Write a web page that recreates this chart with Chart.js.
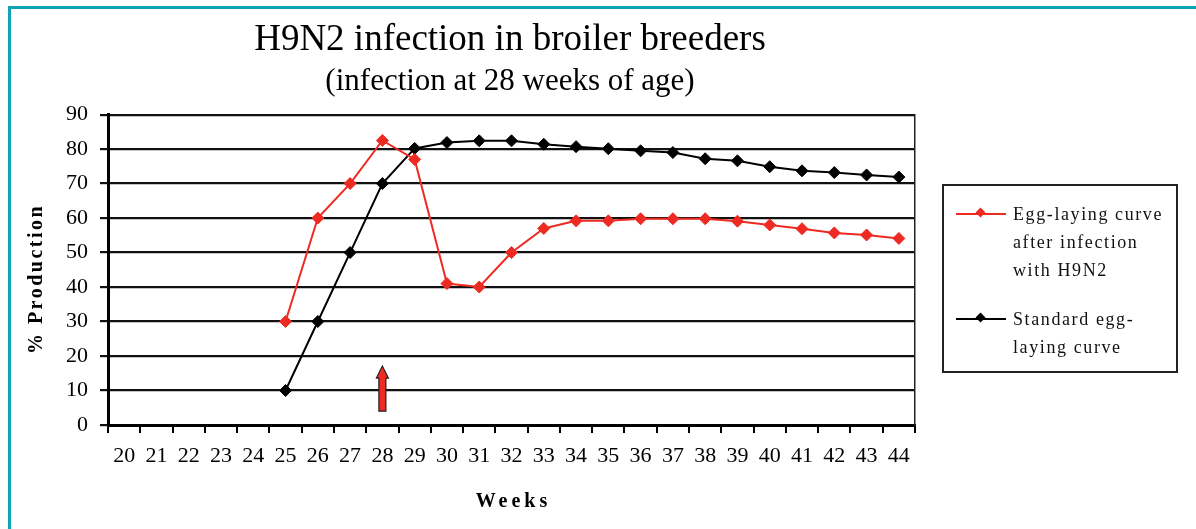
<!DOCTYPE html>
<html>
<head>
<meta charset="utf-8">
<script src="https://cdn.jsdelivr.net/npm/chart.js@4"></script>
<style>
  body { margin: 0; background: #fff; }
  #wrap { position: relative; width: 1196px; height: 529px; overflow: hidden; }
  #frame { position: absolute; left: 8px; top: 6px; right: 0; bottom: 0;
           border-top: 3px solid #10a3b6; border-left: 3px solid #10a3b6; pointer-events: none; }
  #legend { position: absolute; left: 942px; top: 184px; width: 232px; height: 185px;
            border: 2px solid #222; font-family: 'Liberation Serif', serif; font-size: 18px;
            letter-spacing: 1.6px; color: #111; }
  .item { position: absolute; left: 12px; line-height: 28px; }
  .sample { position: absolute; left: 0; top: 13px; width: 50px; height: 2px; }
  .sample i { position: absolute; left: 21px; top: -4px; width: 7px; height: 7px; transform: rotate(45deg); }
  .txt { position: absolute; left: 57px; top: 0; white-space: nowrap; }
</style>
</head>
<body>
<div id="wrap">
  <canvas id="graph"></canvas>
  <div id="frame"></div>
  <div id="legend">
    <div class="item" style="top:14px">
      <div class="sample" style="background:#ee2b22"><i style="background:#ee2b22"></i></div>
      <div class="txt">Egg-laying curve<br>after infection<br>with H9N2</div>
    </div>
    <div class="item" style="top:119px">
      <div class="sample" style="background:#000"><i style="background:#000"></i></div>
      <div class="txt">Standard egg-<br>laying curve</div>
    </div>
  </div>
</div>
<script>
const weeks = [20, 21, 22, 23, 24, 25, 26, 27, 28, 29, 30, 31, 32, 33, 34, 35, 36, 37, 38, 39, 40, 41, 42, 43, 44];
const infected = [null, null, null, null, null, 30, 60, 70, 82.5, 77, 41, 40, 50, 57, 59.2, 59.2, 59.8, 59.8, 59.8, 59.1, 58, 56.9, 55.7, 55.1, 54.1];
const standard = [null, null, null, null, null, 10, 30, 50, 70, 80.2, 81.9, 82.4, 82.4, 81.4, 80.7, 80.1, 79.5, 79, 77.2, 76.6, 74.9, 73.7, 73.2, 72.5, 71.9];
const infectionWeek = 28;
const arrowValues = [4, 13.6, 17.1]; // base, head, tip

const serif = "'Liberation Serif', 'Times New Roman', serif";

// arrow at the infection week and the two axis titles (need letter spacing)
const extras = {
    id: 'extras',
    afterDraw(chart) {
        const ctx = chart.ctx;
        const x = chart.scales.x;
        const y = chart.scales.y;
        const cx = x.getPixelForValue(weeks.indexOf(infectionWeek));
        const base = y.getPixelForValue(arrowValues[0]);
        const neck = y.getPixelForValue(arrowValues[1]);
        const tip = y.getPixelForValue(arrowValues[2]);
        ctx.save();
        ctx.beginPath();
        ctx.moveTo(cx - 3.5, base);
        ctx.lineTo(cx - 3.5, neck);
        ctx.lineTo(cx - 6, neck);
        ctx.lineTo(cx, tip);
        ctx.lineTo(cx + 6, neck);
        ctx.lineTo(cx + 3.5, neck);
        ctx.lineTo(cx + 3.5, base);
        ctx.closePath();
        ctx.fillStyle = '#ee2b22';
        ctx.fill();
        ctx.lineWidth = 1.2;
        ctx.strokeStyle = '#222';
        ctx.stroke();

        ctx.fillStyle = '#000';
        ctx.font = 'bold 20px ' + serif;
        ctx.textAlign = 'center';
        ctx.textBaseline = 'middle';
        ctx.letterSpacing = '4px';
        ctx.fillText('Weeks', (chart.chartArea.left + chart.chartArea.right) / 2 + 2, 502);
        ctx.letterSpacing = '2.5px';
        ctx.translate(y.left + 37, 279);
        ctx.rotate(-Math.PI / 2);
        ctx.fillText('% Production', 0, 0);
        ctx.restore();
    }
};

const graph = document.getElementById('graph');
const chart = new Chart(graph, {
    type: 'line',
    data: {
        labels: weeks,
        datasets: [{
            label: 'Egg-laying curve after infection with H9N2',
            data: infected,
            borderColor: '#ee2b22',
            backgroundColor: '#ee2b22',
            borderWidth: 2,
            pointStyle: 'rectRot',
            pointRadius: 6,
            pointBorderWidth: 1,
            tension: 0
        }, {
            label: 'Standard egg-laying curve',
            data: standard,
            borderColor: '#000',
            backgroundColor: '#000',
            borderWidth: 2,
            pointStyle: 'rectRot',
            pointRadius: 6,
            pointBorderWidth: 1,
            tension: 0
        }]
    },
    options: {
        responsive: true,
        maintainAspectRatio: false,
        animation: false,
        layout: { padding: { left: 0, right: 176, top: 0, bottom: 0 } },
        plugins: {
            legend: { display: false },
            tooltip: { enabled: false },
            title: {
                display: true,
                text: 'H9N2 infection in broiler breeders',
                color: '#000',
                font: { family: serif, size: 37, weight: 'normal' },
                padding: { top: 18, bottom: 0 }
            },
            subtitle: {
                display: true,
                text: '(infection at 28 weeks of age)',
                color: '#000',
                font: { family: serif, size: 31, weight: 'normal' },
                padding: { top: 1, bottom: 14 }
            }
        },
        scales: {
            x: {
                offset: true,
                grid: { offset: true, drawOnChartArea: false, drawTicks: true, tickLength: 8, color: '#000', lineWidth: 2 },
                border: { color: '#000', width: 3 },
                ticks: { color: '#000', font: { family: serif, size: 22 }, padding: 10, maxRotation: 0, autoSkip: false },
                afterFit: s => { s.height = 104; }
            },
            y: {
                min: 0,
                max: 90,
                ticks: { stepSize: 10, color: '#000', font: { family: serif, size: 22 }, padding: 12 },
                grid: { color: '#111', lineWidth: 2.2, tickLength: 8 },
                border: { color: '#000', width: 3 },
                afterFit: s => { s.width = 108; }
            },
            y2: {
                position: 'right',
                min: 0,
                max: 90,
                ticks: { display: false },
                grid: { drawOnChartArea: false, drawTicks: false },
                border: { color: '#222', width: 1.5 },
                afterFit: s => { s.width = 105; }
            }
        }
    },
    plugins: [extras]
});
</script>
</body>
</html>
